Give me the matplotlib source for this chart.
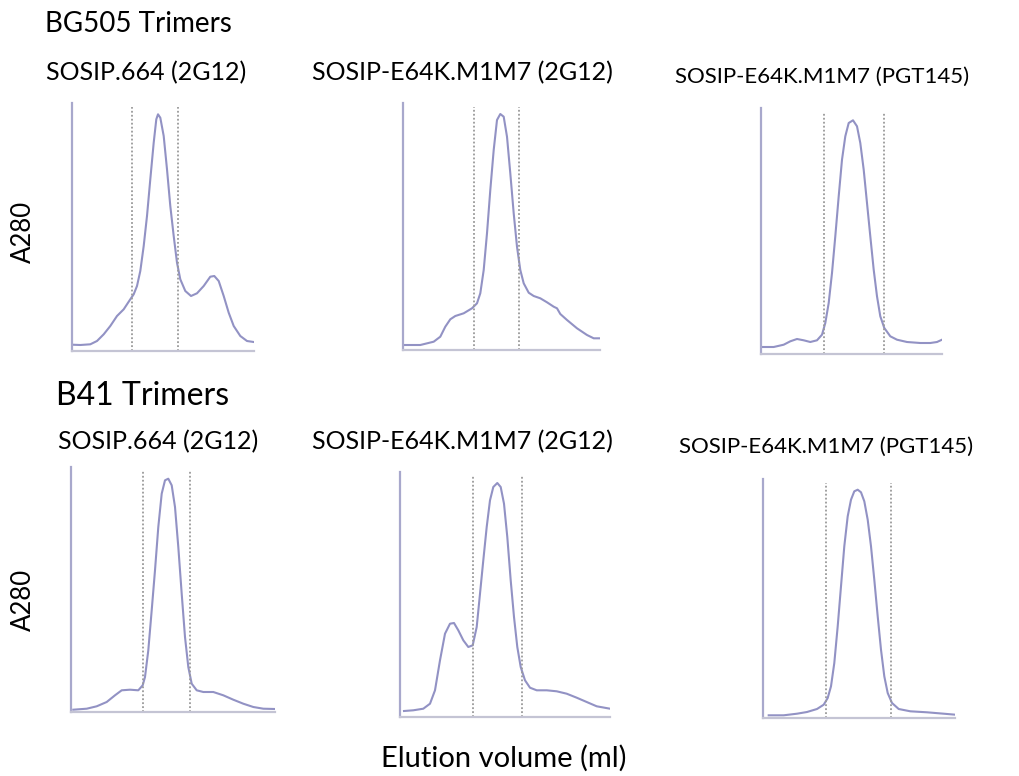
import numpy as np
import matplotlib
matplotlib.use("Agg")
import matplotlib.pyplot as plt

plt.rcParams['font.family'] = ['Lato', 'DejaVu Sans']

# SEC traces, elution volume (arb. units) vs A280 (arb. units)
# BG505 SOSIP.664 (2G12)
bg_664_x = [0, 8.3, 18.3, 25, 31.7, 38.3, 45, 51.7, 58.3, 61.7, 65, 68.3, 71.7, 75, 78.3,
            81.7, 84.3, 86, 88.3, 91.7, 95, 98.3, 101.7, 105, 108.3, 113.3, 119, 125,
            131.7, 138.3, 142.3, 146.7, 151.7, 156.7, 161.7, 168.3, 175, 181.7]
bg_664_y = [6.3, 6, 6.7, 10, 16.7, 25, 35, 41.7, 51.7, 56.7, 65, 80, 105, 135, 171.7,
            208.3, 231.7, 236.7, 233.3, 215, 181.7, 145, 115, 88.3, 71.7, 60, 55, 57.7,
            65, 74.3, 75, 70, 55, 38.3, 25, 15, 10, 9]

# BG505 SOSIP-E64K.M1M7 (2G12)
bg_m1m7_x = [0.7, 17.3, 30.7, 37.3, 42.3, 47.3, 52.3, 60.7, 69, 74, 77.3, 80.7, 84, 87.3,
             90.7, 94, 97.3, 100.7, 104, 107.3, 110.7, 114, 117.3, 120.7, 125.7, 130.7,
             137.3, 144, 150.7, 154, 157.3, 164, 174, 184, 190.7, 197.3]
bg_m1m7_y = [5, 5, 8.3, 13.3, 23.3, 30.7, 34, 36.7, 41.7, 46.7, 56.7, 80, 116.7, 160,
             200, 230, 236, 233.3, 213.3, 176.7, 136.7, 103.3, 80, 66.7, 57.3, 54,
             51.7, 47.7, 43.3, 41.7, 36, 30, 21.7, 15, 11.7, 11.7]

# BG505 SOSIP-E64K.M1M7 (PGT145)
bg_pgt_x = [0, 12.7, 22.7, 29.3, 36, 42.7, 49.3, 56, 61, 64.3, 67.7, 71, 74.3, 77.7, 81,
            84.3, 87.7, 92, 96, 99.3, 102.7, 106, 109.3, 112.7, 116, 119.3, 123.3,
            129.3, 136, 146, 159.3, 169.3, 176, 181]
bg_pgt_y = [7, 7, 9.3, 12.7, 15, 13.7, 12, 13.7, 19.3, 31, 51, 81, 117.7, 157.7, 194.3,
            217.7, 231, 233.7, 227.7, 211, 184.3, 151, 117.7, 84.3, 57.7, 37.7, 26,
            17.7, 14.3, 12, 11, 11, 12, 14.3]

# B41 SOSIP.664 (2G12)
b41_664_x = [2.3, 15.7, 25.7, 35.7, 44, 50.7, 59, 67.3, 71.7, 74, 77.3, 80.7, 84, 87.3,
             90.7, 94, 97.3, 100.7, 104, 107.3, 110.7, 114, 117.3, 120.7, 125.7, 132.3,
             142.3, 152.3, 162.3, 172.3, 182.3, 192.3, 204]
b41_664_y = [2.3, 3.3, 5.7, 10, 16.7, 21.7, 22.3, 21.7, 26.7, 35, 61.7, 101.7, 141.7, 185,
             218.3, 231.7, 233.3, 226.7, 205, 165, 118.3, 75, 45, 28.3, 21.7, 20,
             20, 16.7, 12.3, 8.3, 5, 3.3, 3]

# B41 SOSIP-E64K.M1M7 (2G12)
b41_m1m7_x = [4, 13.3, 23.3, 30, 35, 40, 45, 50, 54, 58.3, 63.3, 68.3, 72.7, 76.7, 80,
              83.3, 86.7, 90, 93.3, 97.3, 100.7, 104, 107.3, 110.7, 114, 117.3, 120.7,
              125, 130, 136.7, 146.7, 156.7, 166.7, 176.7, 186.7, 196.7, 210]
b41_m1m7_y = [6, 6.7, 8.3, 13.3, 26.7, 56.7, 83.3, 93.3, 94, 86.7, 76.7, 70, 71.7, 90,
              123.3, 156.7, 190, 216.7, 230, 234, 230, 213.3, 180, 136.7, 100, 70, 50,
              36.7, 29.3, 26.7, 26.7, 25.7, 23.3, 19.3, 15, 10.7, 8.3]

# B41 SOSIP-E64K.M1M7 (PGT145)
b41_pgt_x = [5.7, 20.7, 34, 44, 54, 60.7, 64.7, 68, 71.3, 74.7, 78, 81.3, 84.7, 88, 91.3,
             94.7, 98, 101.3, 104.7, 108, 111.3, 114.7, 118, 121.3, 124.7, 129, 135.7,
             147.3, 164, 180.7, 192.3]
b41_pgt_y = [2.7, 2.7, 4.3, 6, 9, 13.3, 20, 31.7, 55, 91.7, 131.7, 171.7, 201.7, 218.3,
             226.7, 228.3, 225.7, 216.7, 198.3, 171.7, 138.3, 101.7, 68.3, 41.7, 25, 15,
             9, 6.7, 5.7, 4.3, 3.3]

# fraction boundaries (dotted lines)
cuts = [(60, 106), (71.3, 116.3), (62.7, 123.3),
        (71.7, 119), (73.3, 121.7), (63.3, 128.3)]
traces = [(bg_664_x, bg_664_y), (bg_m1m7_x, bg_m1m7_y), (bg_pgt_x, bg_pgt_y),
          (b41_664_x, b41_664_y), (b41_m1m7_x, b41_m1m7_y), (b41_pgt_x, b41_pgt_y)]
titles = ['SOSIP.664 (2G12)', 'SOSIP-E64K.M1M7 (2G12)', 'SOSIP-E64K.M1M7 (PGT145)'] * 2
title_size = [18, 18, 16] * 2

W, H = 1019, 776
# axes boxes in pixels: left, top, width, height
boxes = [(72, 103, 182, 248), (403, 103, 197, 247), (761, 108, 181, 246),
         (71, 467, 204, 245), (400, 472, 210, 245), (763, 479, 192, 239)]
# title centre x, baseline y (pixels)
title_pos = [(146, 80), (462, 80), (822, 83), (158, 449), (462, 449), (826, 453)]

fig = plt.figure(figsize=(W / 100, H / 100), dpi=100)

line_col = '#9292c4'
for i, (l, t, w, h) in enumerate(boxes):
    ax = fig.add_axes([l / W, 1 - (t + h) / H, w / W, h / H])
    x, y = traces[i]
    ax.plot(x, y, color=line_col, lw=1.5, solid_joinstyle='round')
    for c in cuts[i]:
        ax.plot([c, c], [0, h * 0.985], color='#9a9a9a', lw=1.3, ls=(0, (1, 1.2)))
    ax.set_xlim(0, w)
    ax.set_ylim(0, h)
    ax.set_xticks([])
    ax.set_yticks([])
    for s in ['top', 'right']:
        ax.spines[s].set_visible(False)
    ax.spines['left'].set_color('#a8a8cc')
    ax.spines['left'].set_linewidth(1.6)
    ax.spines['bottom'].set_color('#c4c4d4')
    ax.spines['bottom'].set_linewidth(1.6)
    tx, ty = title_pos[i]
    fig.text(tx / W, 1 - ty / H, titles[i], ha='center', va='baseline',
             fontsize=title_size[i])

fig.text(45 / W, 1 - 32 / H, 'BG505 Trimers', ha='left', va='baseline', fontsize=20)
fig.text(56 / W, 1 - 405 / H, 'B41 Trimers', ha='left', va='baseline', fontsize=23)
fig.text(23 / W, 1 - 232 / H, 'A280', ha='center', va='center', rotation=90, fontsize=18.5)
fig.text(23 / W, 1 - 600 / H, 'A280', ha='center', va='center', rotation=90, fontsize=18.5)
fig.text(504 / W, 1 - 767 / H, 'Elution volume (ml)', ha='center', va='baseline', fontsize=21)

fig.savefig('out.png', dpi=100)
